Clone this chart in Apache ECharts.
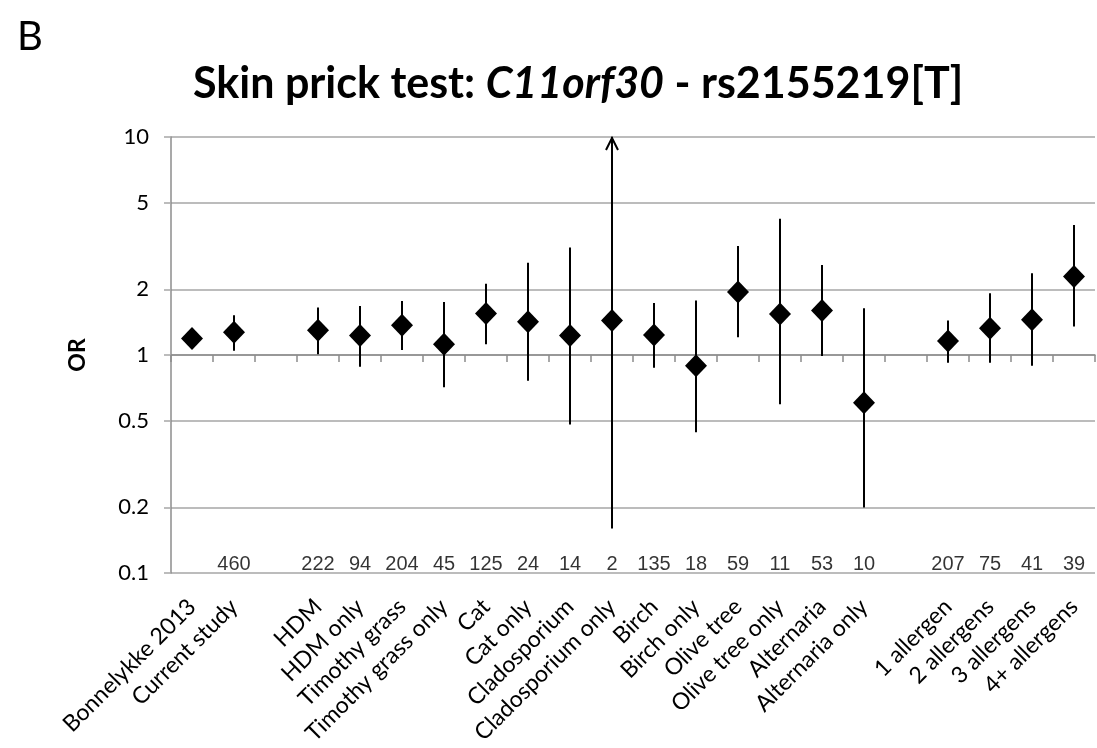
<!DOCTYPE html>
<html><head><meta charset="utf-8">
<script src="https://cdn.jsdelivr.net/npm/echarts@6/dist/echarts.min.js"></script>
<style>html,body{margin:0;padding:0;background:#fff}#c{width:1097px;height:748px}</style>
</head><body><div id="c"></div>
<script>
// ---- data ----
const categories = ['Bonnelykke 2013', 'Current study', ' ', 'HDM', 'HDM only', 'Timothy grass', 'Timothy grass only',
  'Cat', 'Cat only', 'Cladosporium', 'Cladosporium only', 'Birch', 'Birch only', 'Olive tree', 'Olive tree only',
  'Alternaria', 'Alternaria only', '  ', '1 allergen', '2 allergens', '3 allergens', '4+ allergens'];
const orValues = [1.19, 1.27, null, 1.30, 1.23, 1.37, 1.12, 1.55, 1.42, 1.23, 1.44, 1.235, 0.893, 1.945, 1.54,
  1.60, 0.604, null, 1.16, 1.325, 1.45, 2.29];
const ciLower = [1.13, 1.047, null, 1.007, 0.884, 1.054, 0.711, 1.12, 0.762, 0.48, 0.16, 0.875, 0.442, 1.205, 0.594,
  0.99, 0.20, null, 0.922, 0.922, 0.893, 1.35];
const ciUpper = [1.26, 1.52, null, 1.65, 1.68, 1.77, 1.75, 2.12, 2.65, 3.11, 10, 1.73, 1.78, 3.16, 4.22,
  2.59, 1.64, null, 1.44, 1.92, 2.37, 3.95];
// upper limit beyond the axis (drawn as an arrow)
const upperOffScale = [0, 0, 0, 0, 0, 0, 0, 0, 0, 0, 1, 0, 0, 0, 0, 0, 0, 0, 0, 0, 0, 0];
const nCases = ['', '460', '', '222', '94', '204', '45', '125', '24', '14', '2', '135', '18', '59', '11', '53', '10',
  '', '207', '75', '41', '39'];
const yTicks = [0.1, 0.2, 0.5, 1, 2, 5, 10];

const GRID = '#a6a6a6';
const AXIS = '#8c8c8c';
const FONT = 'Lato, "Open Sans", sans-serif';

const errData = [];
const ptData = [];
const nData = [];
categories.forEach((c, i) => {
  if (orValues[i] != null) {
    errData.push([i, ciLower[i], ciUpper[i], upperOffScale[i]]);
    ptData.push([i, orValues[i]]);
  }
  if (nCases[i]) nData.push([i, yTicks[0], nCases[i]]);
});

const chart = echarts.init(document.getElementById('c'), null, {renderer: 'canvas'});
chart.setOption({
  animation: false,
  backgroundColor: '#fff',
  title: [
    {
      text: '{b|Skin prick test: }{i|C11orf30}{b| - rs2155219[T]}',
      left: 188, top: 53,
      textStyle: {
        rich: {
          b: {fontFamily: FONT, fontWeight: 'bold', fontSize: 43, lineHeight: 52, color: '#000'},
          i: {fontFamily: FONT, fontWeight: 'bold', fontStyle: 'italic', fontSize: 43, lineHeight: 52, color: '#000'}
        }
      }
    },
    {
      text: 'B', left: 12, top: 9,
      textStyle: {fontFamily: FONT, fontWeight: 'normal', fontSize: 40, lineHeight: 46, color: '#000'}
    }
  ],
  grid: {left: 171, right: 2, top: 137, bottom: 175, containLabel: false},
  xAxis: [
    {
      type: 'category', data: categories, position: 'bottom', boundaryGap: true,
      axisLine: {show: false}, axisTick: {show: false}, splitLine: {show: false},
      axisLabel: {interval: 0, rotate: 45, margin: 30, fontFamily: FONT, fontSize: 23, color: '#000'}
    },
    {
      type: 'category', data: categories, position: 'bottom', offset: -218, boundaryGap: true,
      axisLine: {show: true, lineStyle: {color: AXIS, width: 1.5}},
      axisTick: {show: true, length: 7, interval: 0, lineStyle: {color: AXIS, width: 1.5}},
      axisLabel: {show: false}, splitLine: {show: false}
    }
  ],
  yAxis: {
    type: 'log', logBase: 10, min: 0.1, max: 10,
    name: 'OR', nameLocation: 'middle', nameGap: 82, nameRotate: 90,
    nameTextStyle: {fontFamily: FONT, fontWeight: 'bold', fontSize: 23, color: '#000'},
    axisLine: {show: true, lineStyle: {color: AXIS, width: 1.5}},
    axisTick: {show: true, length: 7, customValues: yTicks, lineStyle: {color: GRID, width: 1.5}},
    axisLabel: {
      customValues: yTicks, margin: 22, fontFamily: FONT, fontSize: 22, color: '#000',
      formatter: v => String(+(+v).toPrecision(6))
    },
    splitLine: {show: true, lineStyle: {color: GRID, width: 1.5}}
  },
  series: [
    {
      type: 'custom', xAxisIndex: 0, yAxisIndex: 0, data: errData, z: 2,
      encode: {x: 0, y: [1, 2]},
      renderItem: function (params, api) {
        const i = api.value(0);
        const lo = api.coord([i, api.value(1)]);
        const hi = api.coord([i, api.value(2)]);
        const children = [{
          type: 'line',
          shape: {x1: lo[0], y1: lo[1], x2: hi[0], y2: hi[1]},
          style: {stroke: '#000', lineWidth: 2}
        }];
        if (api.value(3)) {
          children.push({
            type: 'polyline',
            shape: {points: [[hi[0] - 6, hi[1] + 13], [hi[0], hi[1] + 1], [hi[0] + 6, hi[1] + 13]]},
            style: {stroke: '#000', lineWidth: 2, fill: null}
          });
        }
        return {type: 'group', children: children};
      }
    },
    {
      type: 'scatter', xAxisIndex: 0, yAxisIndex: 0, data: ptData, z: 3,
      symbol: 'diamond', symbolSize: [22, 23],
      itemStyle: {color: '#000', opacity: 1}
    },
    {
      type: 'scatter', xAxisIndex: 0, yAxisIndex: 0, data: nData, z: 4,
      symbolSize: 0,
      label: {
        show: true, position: 'top', distance: -1,
        fontFamily: '"Liberation Sans", Arial, sans-serif', fontSize: 20, color: '#000',
        formatter: p => String(p.data[2])
      }
    }
  ]
});
</script>
</body></html>
